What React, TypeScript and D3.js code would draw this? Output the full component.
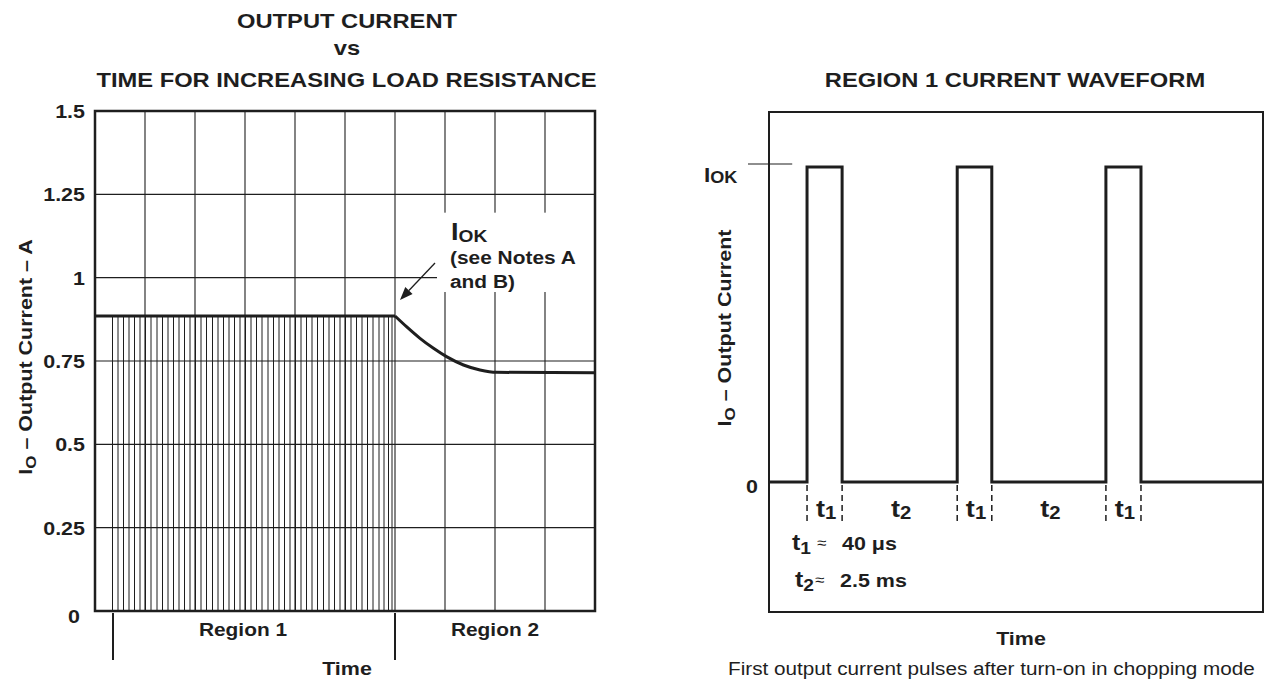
import React from "react";
import * as d3 from "d3";

// ---------- Left chart data ----------
const yTicks = [0, 0.25, 0.5, 0.75, 1, 1.25, 1.5];
const yTickLabels = ["0", "0.25", "0.5", "0.75", "1", "1.25", "1.5"];
const xGrid = [1, 2, 3, 4, 5, 6, 7, 8, 9];
// Region-1 chopping pulses (time positions, grid units)
const pulseTimes = [
  0.35, 0.46, 0.57, 0.68, 0.79, 0.9, 1.01, 1.12, 1.24, 1.35, 1.46, 1.57, 1.68,
  1.79, 1.9, 2.01, 2.12, 2.23, 2.35, 2.46, 2.57, 2.68, 2.79, 2.9, 3.01, 3.12,
  3.23, 3.34, 3.46, 3.57, 3.68, 3.79, 3.9, 4.01, 4.12, 4.23, 4.34, 4.45, 4.57,
  4.68, 4.79, 4.9, 5.01, 5.12, 5.23, 5.34, 5.45, 5.56, 5.68, 5.78, 5.87, 5.94,
];
const pulseLevel = 0.885;
const flatT = [0, 6];
const flatV = [0.885, 0.885];
const decayT = [6, 6.23, 6.5, 6.77, 7.03, 7.37, 7.7, 8.03, 10];
const decayV = [0.885, 0.853, 0.818, 0.788, 0.763, 0.738, 0.723, 0.716, 0.715];
const regionMarks = [0.36, 6];
const regionLabels = ["Region 1", "Region 2"];
const regionLabelT = [2.96, 8];

// ---------- Right chart data ----------
const waveT = [0, 7.7, 14.8, 38.1, 45.1, 68.2, 75.3, 100];
const waveV = [0, 1, 0, 1, 0, 1, 0, 0];
const edgeT = [7.7, 14.8, 38.1, 45.1, 68.2, 75.3];
const intervalLabels = ["1", "2", "1", "2", "1"];

const FONT = "'Liberation Sans', Arial, Helvetica, sans-serif";
const INK = "#1e1e1e";
const SX = 1.13;

function T({ x, y, children, anchor = "middle", size = 19, weight = "bold", rotate = 0, sx = SX }: any) {
  return (
    <text
      transform={`translate(${x},${y})${rotate ? ` rotate(${rotate})` : ""} scale(${sx},1)`}
      textAnchor={anchor}
      fontSize={size}
      fontWeight={weight}
      fontFamily={FONT}
      fill={INK}
    >
      {children}
    </text>
  );
}

export default function App() {
  const xL = d3.scaleLinear().domain([0, 10]).range([95, 595]);
  const yL = d3.scaleLinear().domain([0, 1.5]).range([611, 111]);
  const xR = d3.scaleLinear().domain([0, 100]).range([769, 1263]);
  const yR = d3.scaleLinear().domain([-0.413, 1.175]).range([612, 112]);

  const flatPath = d3
    .line<number>()
    .x((d, i) => xL(flatT[i]))
    .y((d) => yL(d))(flatV);
  const decayPath = d3
    .line<number>()
    .x((d, i) => xL(decayT[i]))
    .y((d) => yL(d))
    .curve(d3.curveMonotoneX)(decayV);
  const wavePath = d3
    .line<number>()
    .x((d, i) => xR(waveT[i]))
    .y((d) => yR(d))
    .curve(d3.curveStepAfter)(waveV);

  // arrow
  const ax1 = xL(6.8), ay1 = yL(1.044), ax2 = xL(6.1), ay2 = yL(0.933);
  const ang = Math.atan2(ay2 - ay1, ax2 - ax1);
  const hl = 13, hw = 5;
  const bx = ax2 - hl * Math.cos(ang), by = ay2 - hl * Math.sin(ang);
  const head = `M${ax2},${ay2} L${bx + hw * Math.sin(ang)},${by - hw * Math.cos(ang)} L${bx - hw * Math.sin(ang)},${by + hw * Math.cos(ang)} Z`;

  return (
    <svg
      width={1265}
      height={679}
      style={{ position: "absolute", left: 0, top: 0, display: "block", background: "#fff" }}
    >
      <rect x={0} y={0} width={1265} height={679} fill="#fff" />

      {/* ===== LEFT CHART ===== */}
      <T x={347} y={28} size={21}>OUTPUT CURRENT</T>
      <T x={347} y={55} size={21}>vs</T>
      <T x={346.5} y={87} size={21}>TIME FOR INCREASING LOAD RESISTANCE</T>

      {/* hatch pulses */}
      {pulseTimes.map((t, i) => (
        <line key={"p" + i} x1={xL(t)} x2={xL(t)} y1={yL(0)} y2={yL(pulseLevel)} stroke={INK} strokeWidth={1} />
      ))}

      {/* grid */}
      {xGrid.map((t) => (
        <line key={"gx" + t} x1={xL(t)} x2={xL(t)} y1={yL(0)} y2={yL(1.5)} stroke={INK} strokeWidth={1.1} />
      ))}
      {yTicks.slice(1, -1).map((v) => (
        <line key={"gy" + v} x1={xL(0)} x2={xL(10)} y1={yL(v)} y2={yL(v)} stroke={INK} strokeWidth={1.1} />
      ))}

      {/* annotation background */}
      <rect x={xL(6.84)} y={yL(1.195)} width={xL(9.98) - xL(6.84)} height={yL(0.957) - yL(1.195)} fill="#fff" />

      {/* border */}
      <rect x={xL(0)} y={yL(1.5)} width={xL(10) - xL(0)} height={yL(0) - yL(1.5)} fill="none" stroke={INK} strokeWidth={2.5} />

      {/* current curve */}
      <path d={flatPath || ""} fill="none" stroke={INK} strokeWidth={3} />
      <path d={decayPath || ""} fill="none" stroke={INK} strokeWidth={3} />

      {/* y tick labels */}
      {yTicks.map((v, i) =>
        v === 0 ? (
          <T key={"yl" + i} x={80} y={yL(v) + 12} anchor="end" size={19}>{yTickLabels[i]}</T>
        ) : (
          <T key={"yl" + i} x={85} y={yL(v) + 7} anchor="end" size={19}>{yTickLabels[i]}</T>
        )
      )}

      {/* y axis title */}
      <T x={32} y={357} rotate={-90} size={19}>
        <tspan>I</tspan>
        <tspan fontSize={15} dy={4}>O</tspan>
        <tspan dy={-4}> – Output Current – A</tspan>
      </T>

      {/* annotation */}
      <line x1={ax1} y1={ay1} x2={bx} y2={by} stroke={INK} strokeWidth={1.3} />
      <path d={head} fill={INK} />
      <T x={451} y={240} anchor="start" size={24}>
        <tspan>I</tspan>
        <tspan fontSize={17} dy={2}>OK</tspan>
      </T>
      <T x={450} y={264} anchor="start" size={18.5}>(see Notes A</T>
      <T x={450} y={288} anchor="start" size={18.5}>and B)</T>

      {/* region marks */}
      {regionMarks.map((t, i) => (
        <line key={"rm" + i} x1={xL(t)} x2={xL(t)} y1={613} y2={660} stroke={INK} strokeWidth={2} />
      ))}
      {regionLabels.map((s, i) => (
        <T key={"rl" + i} x={xL(regionLabelT[i])} y={636} size={18.5}>{s}</T>
      ))}
      <T x={347} y={675} size={19}>Time</T>

      {/* ===== RIGHT CHART ===== */}
      <T x={1015} y={87} size={21}>REGION 1 CURRENT WAVEFORM</T>

      <rect x={xR(0)} y={yR(1.175)} width={xR(100) - xR(0)} height={yR(-0.413) - yR(1.175)} fill="none" stroke={INK} strokeWidth={2} />

      <path d={wavePath || ""} fill="none" stroke={INK} strokeWidth={3} strokeLinejoin="miter" />

      {/* I_OK tick */}
      <line x1={xR(0) - 21} x2={xR(4.7)} y1={yR(1.01)} y2={yR(1.01)} stroke={INK} strokeWidth={1.1} />
      <T x={704} y={182} anchor="start" size={20}>
        <tspan>I</tspan>
        <tspan fontSize={16} dy={1}>OK</tspan>
      </T>
      <T x={758} y={493} anchor="end" size={19}>0</T>

      {/* dashed edge markers */}
      {edgeT.map((t, i) => (
        <line key={"em" + i} x1={xR(t)} x2={xR(t)} y1={485} y2={523} stroke={INK} strokeWidth={1.5} strokeDasharray="6,4" />
      ))}
      {intervalLabels.map((s, i) => (
        <T key={"il" + i} x={(xR(edgeT[i]) + xR(edgeT[i + 1])) / 2 + 1.5} y={517} size={24}>
          <tspan>t</tspan>
          <tspan fontSize={18} dy={2}>{s}</tspan>
        </T>
      ))}

      {/* definitions */}
      <T x={792} y={550} anchor="start" size={22}>
        <tspan>t</tspan>
        <tspan fontSize={17} dy={4}>1</tspan>
      </T>
      <T x={817} y={548} anchor="start" size={15} weight="normal">≈</T>
      <T x={842} y={550} anchor="start" size={19}>40 μs</T>
      <T x={795} y={587} anchor="start" size={22}>
        <tspan>t</tspan>
        <tspan fontSize={17} dy={4}>2</tspan>
      </T>
      <T x={815} y={585} anchor="start" size={15} weight="normal">≈</T>
      <T x={840} y={587} anchor="start" size={19}>2.5 ms</T>

      {/* y axis title right */}
      <T x={731} y={328} rotate={-90} size={19}>
        <tspan>I</tspan>
        <tspan fontSize={15} dy={4}>O</tspan>
        <tspan dy={-4}> – Output Current</tspan>
      </T>

      <T x={1021} y={645} size={19}>Time</T>
      <T x={728} y={675} anchor="start" size={19} weight="normal" sx={1.09}>
        First output current pulses after turn-on in chopping mode
      </T>
    </svg>
  );
}
